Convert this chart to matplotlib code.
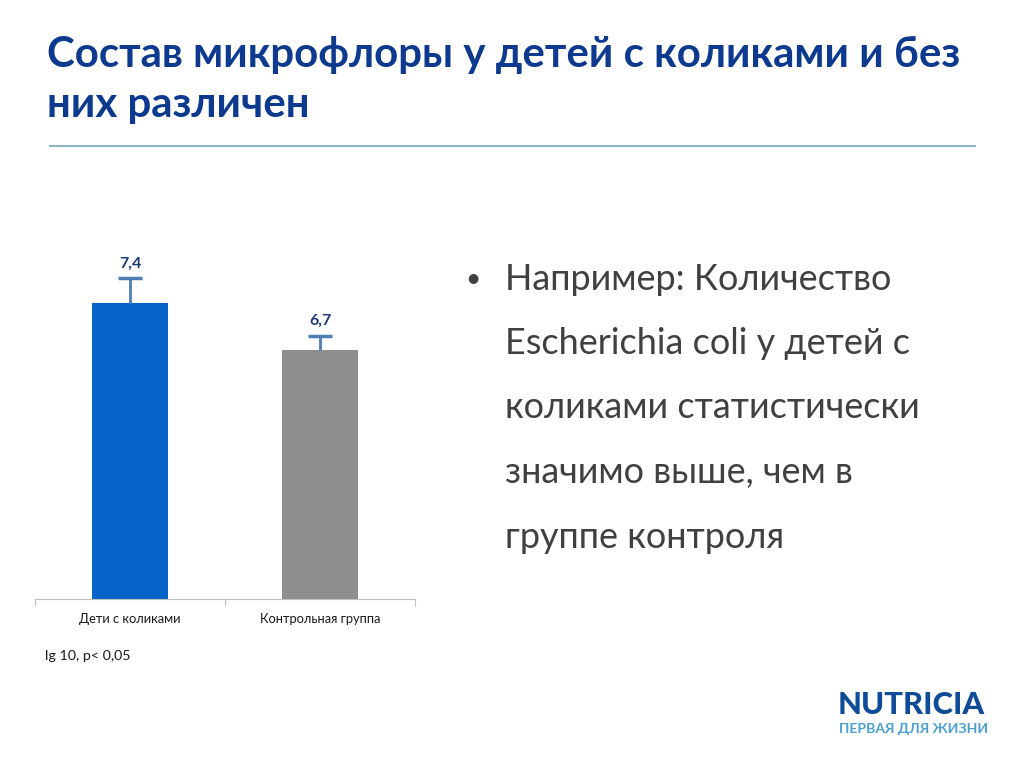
import matplotlib.pyplot as plt
import numpy as np

# данные диаграммы
categories = ['Дети с коликами', 'Контрольная группа']
values = [7.4, 6.7]
errors = [0.37, 0.21]
value_labels = ['7,4', '6,7']
bar_colors = ['#0563C9', '#8E8E8E']

title_lines = ['Состав микрофлоры у детей с коликами и без', 'них различен']
bullet_lines = ['Например: Количество',
                'Escherichia coli у детей с',
                'коликами статистически',
                'значимо выше, чем в',
                'группе контроля']

plt.rcParams['font.family'] = ['Lato', 'DejaVu Sans']

fig = plt.figure(figsize=(10.24, 7.67), dpi=100)
W, H = 1024, 767
renderer = fig.canvas.get_renderer()

def fx(px):
    return px / W

def fy(py):
    return 1 - py / H

def fit(txt, width_px):
    # подгоняем размер шрифта под ширину строки на слайде
    w = txt.get_window_extent(renderer).width
    txt.set_fontsize(txt.get_fontsize() * width_px / w)
    return txt.get_fontsize()

# заголовок и линия под ним
t = fig.text(fx(47), fy(55), title_lines[0], ha='left', va='center', fontsize=28,
             fontweight='bold', color='#0D3A8E')
size = fit(t, 913)
fig.text(fx(47), fy(105), title_lines[1], ha='left', va='center', fontsize=size,
         fontweight='bold', color='#0D3A8E')
fig.add_artist(plt.Line2D([fx(50), fx(975)], [fy(146), fy(146)],
                          color='#8DB6CB', linewidth=1.5))

# столбцы
ax = fig.add_axes([fx(35), fy(599), fx(415 - 35), (599 - 263) / H])
x = np.arange(len(categories))
ax.bar(x, values, width=0.4, color=bar_colors, zorder=2)
# планки погрешностей только вверх, с одной засечкой
tops = np.array(values) + np.array(errors)
ax.vlines(x, values, tops, color='#4F7DB5', linewidth=2, zorder=3)
ax.hlines(tops, x - 0.065, x + 0.065, color='#4F7DB5', linewidth=2.5, zorder=3)
for xi, top, lab in zip(x, tops, value_labels):
    ax.text(xi, top + 0.12, lab, ha='center', va='bottom', fontsize=11.5,
            fontweight='bold', color='#1F3A78', clip_on=False)

ax.set_xlim(-0.5, 1.5)
ax.set_ylim(3, 8)
for s in ['top', 'right', 'left']:
    ax.spines[s].set_visible(False)
ax.spines['bottom'].set_color('#BFBFBF')
ax.set_yticks([])
ax.set_xticks([-0.5, 0.5, 1.5])
ax.set_xticklabels([])
ax.tick_params(axis='x', which='major', length=5, color='#BFBFBF')
ax.set_xticks(x, minor=True)
ax.set_xticklabels(categories, minor=True, fontsize=9.3, color='#1A1A1A')
ax.tick_params(axis='x', which='minor', length=0, pad=10)

fig.text(fx(45), fy(656), 'lg 10, p< 0,05', ha='left', va='center',
         fontsize=10.3, color='#1A1A1A')

# текст справа
fig.text(fx(465), fy(279), '•', ha='left', va='center', fontsize=19, color='#404040')
t = fig.text(fx(505), fy(279), bullet_lines[0], ha='left', va='center',
             fontsize=25, color='#404040')
size = fit(t, 388)
for i, line in enumerate(bullet_lines[1:], start=1):
    fig.text(fx(505), fy(279 + i * 64.5), line, ha='left', va='center',
             fontsize=size, color='#404040')

# логотип
t = fig.text(fx(838), fy(705), 'NUTRICIA', ha='left', va='center', fontsize=20,
             fontweight='black', color='#0F4C97')
fit(t, 147)
t = fig.text(fx(839), fy(729), 'ПЕРВАЯ ДЛЯ ЖИЗНИ', ha='left', va='center',
             fontsize=10.5, fontweight='bold', color='#4A9FCB')
fit(t, 149)

fig.savefig('out.png', dpi=100)
